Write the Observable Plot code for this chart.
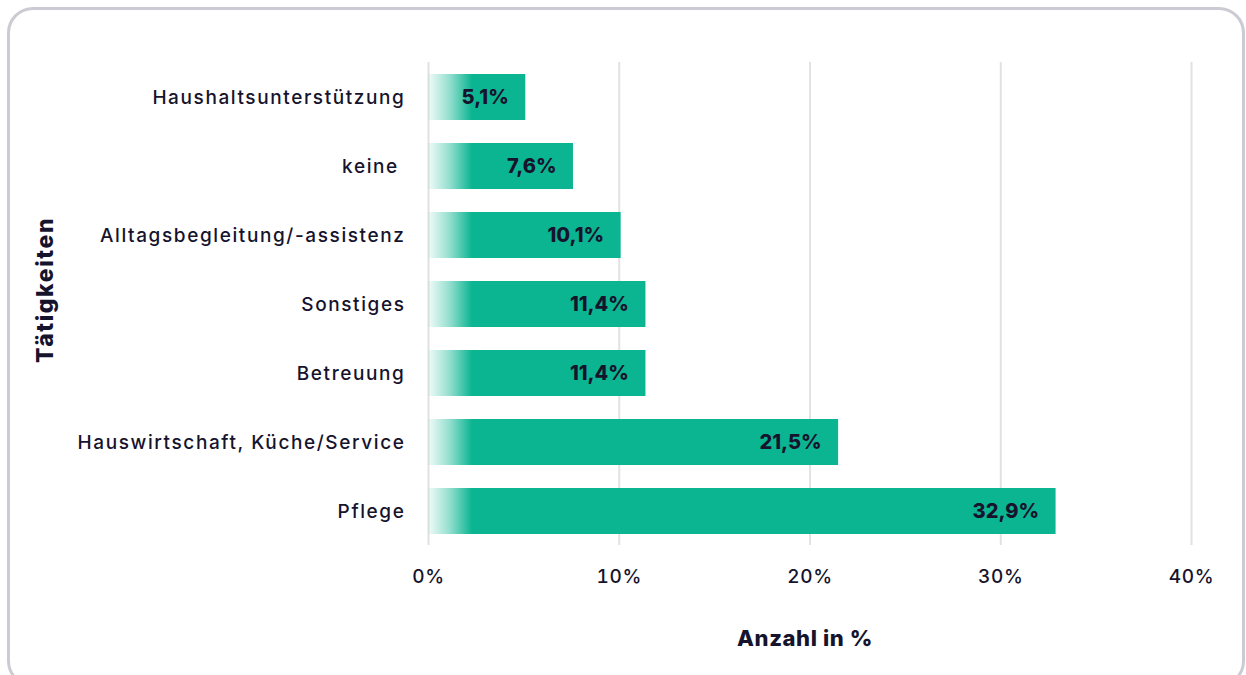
<!DOCTYPE html>
<html>
<head>
<meta charset="utf-8">
<script src="https://cdn.jsdelivr.net/npm/d3@7"></script>
<script src="https://cdn.jsdelivr.net/npm/@observablehq/plot@0.6"></script>
<style>
  html, body { margin: 0; padding: 0; background: #ffffff; overflow: hidden; }
  #card { position: absolute; left: 7px; top: 7px; width: 1238px; height: 680px; box-sizing: border-box;
          border: 3px solid #cbcbd3; border-radius: 26px; background: #fff; }
  #chart { position: absolute; left: 0; top: 0; }
</style>
</head>
<body>
<div id="card"></div>
<div id="chart"></div>
<script>
const categories = ["Haushaltsunterstützung", "keine\u00a0", "Alltagsbegleitung/-assistenz", "Sonstiges", "Betreuung", "Hauswirtschaft, Küche/Service", "Pflege"];
const values = [5.1, 7.6, 10.1, 11.4, 11.4, 21.5, 32.9];
const xTicks = [0, 10, 20, 30, 40];
const xLabel = "Anzahl in %";
const yLabel = "Tätigkeiten";

const data = categories.map((c, i) => ({category: c, value: values[i]}));
const fmt = v => v.toFixed(1).replace(".", ",") + "%";
const ink = "#16132d";
const teal = "#0cb592";

const plot = Plot.plot({
  width: 1246,
  height: 675,
  marginLeft: 428,
  marginRight: 55,
  marginTop: 62,
  marginBottom: 130,
  style: {fontFamily: "Inter, sans-serif", fontSize: "19px", color: ink, background: "transparent"},
  x: {domain: [0, 40], ticks: xTicks, tickFormat: d => d + "%", label: null},
  y: {domain: categories, paddingInner: 0.335, paddingOuter: 0.157, label: null},
  marks: [
    Plot.gridX(xTicks, {stroke: "#e2e2e2", strokeWidth: 2, strokeOpacity: 1}),
    Plot.axisX({ticks: xTicks, tickSize: 0, tickPadding: 24, tickFormat: d => d + "%", fontSize: 19, fontWeight: 500, label: null}),
    Plot.axisY({tickSize: 0, tickPadding: 23, fontSize: 19, fontWeight: 500, label: null}),
    Plot.barX(data, {x: "value", y: "category", fill: "url(#barfade)"}),
    Plot.text(data, {x: "value", y: "category", text: d => fmt(d.value), textAnchor: "end", dx: -17, fill: ink, fontWeight: 800, fontSize: 20}),
    Plot.text([xLabel], {frameAnchor: "bottom", textAnchor: "middle", lineAnchor: "middle", dy: 93, dx: -5, fontWeight: 800, fontSize: 22, fill: ink}),
    Plot.text([yLabel], {frameAnchor: "left", textAnchor: "middle", lineAnchor: "middle", rotate: -90, dx: -383, dy: -14, fontWeight: 800, fontSize: 23, fill: ink})
  ]
});

const svg = d3.select(plot);
// wider letterforms like the original typeface
svg.selectAll("g[aria-label='y-axis tick label'] text").style("letter-spacing", "1.6px");
svg.selectAll("g[aria-label='x-axis tick label'] text").style("letter-spacing", "0.6px");
svg.selectAll("g[aria-label='text'] text").each(function(d) {
  const t = this.textContent;
  if (t === xLabel) d3.select(this).style("letter-spacing", "0.6px");
  if (t === yLabel) d3.select(this).style("letter-spacing", "1.6px");
});

const xs = plot.scale("x");
const x0 = xs.apply(0), x1 = xs.apply(2.3);
const defs = svg.insert("defs", ":first-child");
const grad = defs.append("linearGradient").attr("id", "barfade")
  .attr("gradientUnits", "userSpaceOnUse").attr("x1", x0).attr("x2", x1).attr("y1", 0).attr("y2", 0);
grad.append("stop").attr("offset", 0).attr("stop-color", teal).attr("stop-opacity", 0.05);
grad.append("stop").attr("offset", 0.5).attr("stop-color", teal).attr("stop-opacity", 0.45);
grad.append("stop").attr("offset", 1).attr("stop-color", teal).attr("stop-opacity", 1);

document.getElementById("chart").appendChild(plot);
</script>
</body>
</html>
